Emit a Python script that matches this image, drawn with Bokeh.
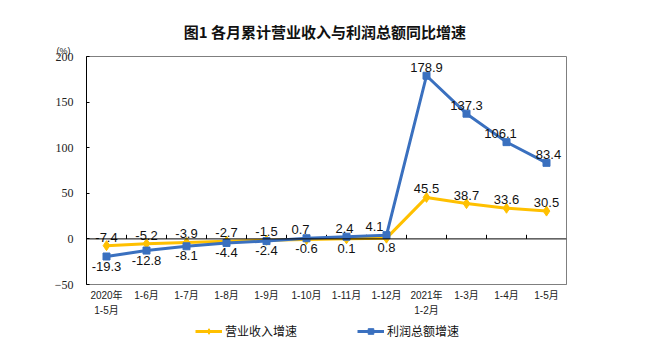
from bokeh.plotting import figure
from bokeh.layouts import column
from bokeh.models import (Span, Legend, LegendItem, FixedTicker, ColumnDataSource,
                          Range1d, Title)
from bokeh.core.properties import value
from bokeh.embed import file_html
from bokeh.resources import INLINE

categories = ["2020年\n1-5月", "1-6月", "1-7月", "1-8月", "1-9月", "1-10月", "1-11月",
              "1-12月", "2021年\n1-2月", "1-3月", "1-4月", "1-5月"]
revenue = [-7.4, -5.2, -3.9, -2.7, -1.5, -0.6, 0.1, 0.8, 45.5, 38.7, 33.6, 30.5]
profit = [-19.3, -12.8, -8.1, -4.4, -2.4, 0.7, 2.4, 4.1, 178.9, 137.3, 106.1, 83.4]
revenue_label_above = [True, True, True, True, True, False, False, False, True, True, True, True]
profit_label_above = [False, False, False, False, False, True, True, True, True, True, True, True]
y_ticks = [-50, 0, 50, 100, 150, 200]
series_names = ["营业收入增速", "利润总额增速"]

title_text = "图1  各月累计营业收入与利润总额同比增速"
unit_text = "(%)"
YELLOW = "#FFC000"
BLUE = "#3A70BF"
NUM_FONT = "Liberation Sans"
CJK_FONT = "Noto Sans CJK SC"

# small horizontal nudges (px) of the value labels, as in the reference
revenue_label_dx = [0, 0, 0, 0, 0, 0, 0, 0, 0, 0, 0, 0]
profit_label_dx = [0, 0, 0, 0, 0, -6, -2, -12, 0, 0, -6, 2]

n = len(categories)
xs = [i + 0.5 for i in range(n)]

p = figure(frame_width=480, frame_height=228, output_backend="svg", toolbar_location=None,
           x_range=Range1d(0, n), y_range=Range1d(y_ticks[0], y_ticks[-1]),
           min_border_left=86, min_border_right=70, min_border_top=56, min_border_bottom=0,
           background_fill_color="white", border_fill_color="white")
p.outline_line_color = "#7f7f7f"
p.outline_line_width = 1
p.grid.visible = False

# unit label (closest to frame), then main title
p.add_layout(Title(text=unit_text, align="left", offset=-30, text_font=NUM_FONT,
                   text_font_size="9px", text_font_style="normal", text_color="#222222",
                   standoff=1), "above")
p.add_layout(Title(text=title_text, align="center", text_font=CJK_FONT,
                   text_font_size="15px", text_font_style="bold", text_color="#111111",
                   standoff=4), "above")

# y axis
p.yaxis.ticker = FixedTicker(ticks=y_ticks)
p.yaxis.major_tick_in = 3
p.yaxis.major_tick_out = 0
p.yaxis.minor_tick_line_color = None
p.yaxis.axis_line_color = "black"
p.yaxis.major_tick_line_color = "black"
p.yaxis.major_label_text_font = "Liberation Sans Narrow"
p.yaxis.major_label_text_font_size = "12px"
p.yaxis.major_label_text_color = "#222222"
p.yaxis.major_label_standoff = 13

# x axis
p.xaxis.ticker = FixedTicker(ticks=xs)
p.xaxis.major_label_overrides = {x: c for x, c in zip(xs, categories)}
p.xaxis.major_tick_in = 0
p.xaxis.major_tick_out = 0
p.xaxis.minor_tick_line_color = None
p.xaxis.axis_line_color = "#7f7f7f"
p.xaxis.major_label_text_font = "Liberation Sans, Noto Sans CJK SC"
p.xaxis.major_label_text_font_size = "10px"
p.xaxis.major_label_text_line_height = 1.45
p.xaxis.major_label_text_color = "#222222"
p.xaxis.major_label_standoff = 5

# zero line and category-boundary ticks
p.add_layout(Span(location=0, dimension="width", line_color="black", line_width=1))
bounds = list(range(1, n))
p.segment(x0=bounds, y0=[0] * len(bounds), x1=bounds, y1=[4.5] * len(bounds),
          line_color="black", line_width=1)

# series
p.line(xs, revenue, line_color=YELLOW, line_width=3)
p.scatter(xs, revenue, marker="diamond", size=10, color=YELLOW)
p.line(xs, profit, line_color=BLUE, line_width=3)
p.scatter(xs, profit, marker="square", size=7, color=BLUE)

def add_labels(vals, above_flags, dxs):
    for want_above, base, off in ((True, "bottom", -4), (False, "top", 5)):
        sel = [i for i, a in enumerate(above_flags) if a == want_above]
        src = ColumnDataSource(dict(x=[xs[i] for i in sel], y=[vals[i] for i in sel],
                                    t=[f"{vals[i]:.1f}" for i in sel],
                                    dx=[dxs[i] for i in sel]))
        p.text(x="x", y="y", text="t", source=src, text_align="center",
               text_baseline=base, x_offset="dx", y_offset=off,
               text_font=value(NUM_FONT), text_font_size="13px", text_color="#111111")

add_labels(revenue, revenue_label_above, revenue_label_dx)
add_labels(profit, profit_label_above, profit_label_dx)

# legend strip below the chart (its series renderers lie outside its view range)
lg = figure(width=635, height=26, output_backend="svg", toolbar_location=None,
            x_range=Range1d(0, n), y_range=Range1d(1000, 1001), min_border=0,
            background_fill_color="white", border_fill_color="white")
lg.outline_line_color = None
lg.axis.visible = False
lg.grid.visible = False
r1 = [lg.line(xs, revenue, line_color=YELLOW, line_width=3),
      lg.scatter(xs, revenue, marker="diamond", size=10, color=YELLOW)]
r2 = [lg.line(xs, profit, line_color=BLUE, line_width=3),
      lg.scatter(xs, profit, marker="square", size=7, color=BLUE)]
legend = Legend(items=[LegendItem(label=series_names[0], renderers=r1),
                       LegendItem(label=series_names[1], renderers=r2)],
                orientation="horizontal", location=(109, 6), spacing=60,
                glyph_width=27, glyph_height=14, label_standoff=3,
                label_text_font=CJK_FONT, label_text_font_size="12px",
                label_text_color="#111111", border_line_color=None,
                background_fill_alpha=0, padding=0, margin=0)
lg.add_layout(legend, "center")

open("out.html", "w").write(file_html(column(p, lg, spacing=0), INLINE))
